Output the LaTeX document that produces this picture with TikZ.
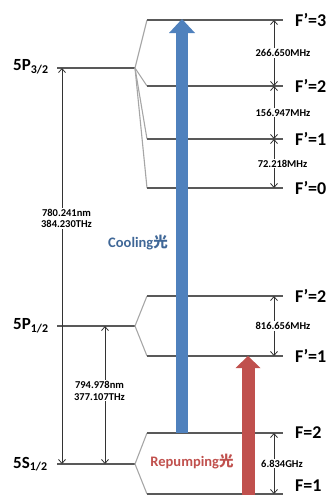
\documentclass[tikz,border=0pt]{standalone}
\usepackage{fontspec}
\setmainfont{Carlito}
\newfontfamily\cjkfont{Noto Sans CJK SC}
\usetikzlibrary{arrows.meta}
\definecolor{coolingBlue}{RGB}{79,129,189}
\definecolor{repumpRed}{RGB}{192,80,77}
\newcommand{\guang}{{\cjkfont 光}}

\begin{document}
\begin{tikzpicture}[x=1pt, y=-1pt,
  level/.style={draw=black!65, line width=1.2pt},
  branch/.style={draw=black!35, line width=1.1pt},
  gaparrow/.style={draw=black!80, line width=0.8pt,
    {Straight Barb[length=4pt,width=7pt]}-{Straight Barb[length=4pt,width=7pt]}},
  gaplabel/.style={fill=white, inner sep=1pt, align=center,
    font=\bfseries\fontsize{10.5}{11.7}\selectfont},
  statelabel/.style={anchor=west, inner sep=0pt,
    font=\bfseries\fontsize{18}{18}\selectfont},
  termlabel/.style={anchor=west, inner sep=0pt,
    font=\bfseries\fontsize{17}{17}\selectfont},
  beamlabel/.style={inner sep=0pt, font=\bfseries\fontsize{14.5}{14.5}\selectfont}]
% Page frame
\useasboundingbox (0,0) rectangle (333,498);
% Fine structure levels
\foreach \name/\y in {p32/68, p12/326, s12/464} {
  \coordinate (\name L) at (57,\y);
  \coordinate (\name) at (135,\y);
  \draw[level] (\name L) -- (\name);
}
% Hyperfine levels, fanned out from their parent
\foreach \name/\y/\parent in {f3/20/p32, f2/86/p32, f1/139/p32, f0/188/p32,
    g2/296/p12, g1/356/p12, h2/433/s12, h1/494/s12} {
  \coordinate (\name L) at (147,\y);
  \coordinate (\name R) at (283,\y);
  \coordinate (\name G) at (274,\y);
  \draw[branch] (\parent) -- (\name L);
  \draw[level] (\name L) -- (\name R);
}
% Term labels
\node[termlabel] (p32txt) at (13,67) {5P\textsubscript{3/2}};
\node[termlabel] (p12txt) at (13,326) {5P\textsubscript{1/2}};
\node[termlabel] (s12txt) at (13,464) {5S\textsubscript{1/2}};
% F labels
\node[statelabel] (f3txt) at (295,20) {F’=3};
\node[statelabel] (f2txt) at (295,86) {F’=2};
\node[statelabel] (f1txt) at (295,139) {F’=1};
\node[statelabel] (f0txt) at (295,188) {F’=0};
\node[statelabel] (g2txt) at (295,296) {F’=2};
\node[statelabel] (g1txt) at (295,356) {F’=1};
\node[statelabel] (h2txt) at (295,433) {F=2};
\node[statelabel] (h1txt) at (295,486) {F=1};
% Hyperfine splittings
\draw[gaparrow] (f3G) -- node[gaplabel, xshift=9pt] (d32) {266.650MHz} (f2G);
\draw[gaparrow] (f2G) -- node[gaplabel, xshift=9pt] (d21) {156.947MHz} (f1G);
\draw[gaparrow] (f1G) -- node[gaplabel, xshift=8.5pt] (d10) {72.218MHz} (f0G);
\draw[gaparrow] (g2G) -- node[gaplabel, xshift=9pt] (dp12) {816.656MHz} (g1G);
\draw[gaparrow] (h2G) -- node[gaplabel, xshift=8pt] (ds12) {6.834GHz} (h1G);
% Optical transitions
\coordinate (d2top) at (62,68);
\coordinate (d2bot) at (62,464);
\coordinate (d1top) at (105,326);
\coordinate (d1bot) at (105,464);
\draw[gaparrow] (d2bot) -- node[gaplabel, pos=0.62, xshift=4.5pt] (d2txt) {780.241nm\\384.230THz} (d2top);
\draw[gaparrow] (d1bot) -- node[gaplabel, pos=0.53, xshift=-5.5pt] (d1txt) {794.978nm\\377.107THz} (d1top);
% Laser beams
\coordinate (coolFrom) at (182,433);
\coordinate (coolTo) at (182,19);
\coordinate (repFrom) at (248,495);
\coordinate (repTo) at (248,356);
\draw[coolingBlue, line width=11.5pt,
  -{Triangle[length=14pt,width=26pt,line width=0pt]}] (coolFrom) -- (coolTo);
\draw[repumpRed, line width=13pt,
  -{Triangle[length=12pt,width=25pt,line width=0pt]}] (repFrom) -- (repTo);
\node[beamlabel, text=coolingBlue!80!black] (cooltxt) at (138,243) {Cooling\guang};
\node[beamlabel, text=repumpRed] (reptxt) at (192,462) {Repumping\guang};
\end{tikzpicture}
\end{document}
